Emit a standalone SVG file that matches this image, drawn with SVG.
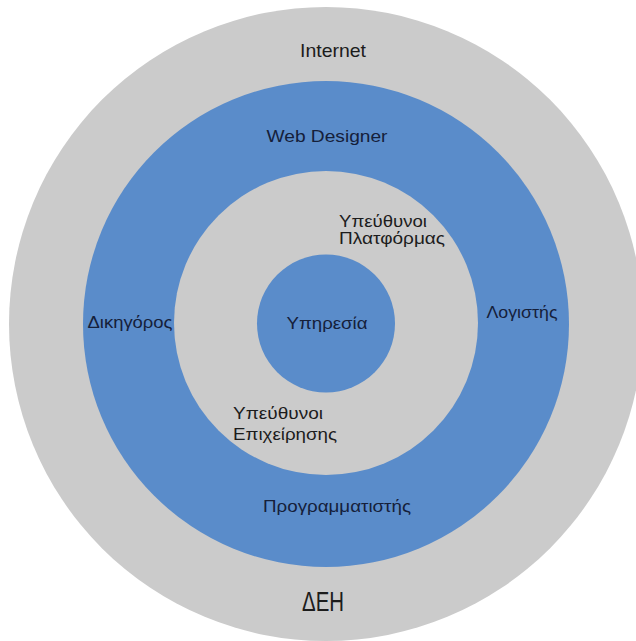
<svg xmlns="http://www.w3.org/2000/svg" width="636" height="641" viewBox="0 0 636 641">
  <style>
    .ring-gray { fill: #cbcbcb; }
    .ring-blue { fill: #5a8cca; }
    text { font-family: "Liberation Sans", "DejaVu Sans", sans-serif; text-anchor: middle; }
    .on-gray { fill: #1c1c1c; }
    .on-blue { fill: #15203a; }
    .lbl { font-size: 17px; }
    .lbl-sm { font-size: 16px; text-anchor: start; }
  </style>
  <rect width="636" height="641" fill="#ffffff"/>

  <!-- outermost ring -->
  <g id="ring-outer">
    <circle class="ring-gray" cx="326" cy="324" r="317"/>
    <text class="on-gray" x="333" y="56.5" font-size="19" textLength="66" lengthAdjust="spacingAndGlyphs">Internet</text>
    <text class="on-gray" x="323" y="610.5" font-size="27" textLength="42" lengthAdjust="spacingAndGlyphs">ΔΕΗ</text>
  </g>

  <!-- second ring -->
  <g id="ring-2">
    <circle class="ring-blue" cx="326" cy="324" r="243"/>
    <text class="on-blue lbl" x="327" y="142" textLength="121" lengthAdjust="spacingAndGlyphs">Web Designer</text>
    <text class="on-blue lbl" x="130" y="328" textLength="85" lengthAdjust="spacingAndGlyphs">Δικηγόρος</text>
    <text class="on-blue lbl" x="522" y="318" textLength="71" lengthAdjust="spacingAndGlyphs">Λογιστής</text>
    <text class="on-blue lbl" x="337" y="512" textLength="148" lengthAdjust="spacingAndGlyphs">Προγραμματιστής</text>
  </g>

  <!-- third ring -->
  <g id="ring-3">
    <circle class="ring-gray" cx="326" cy="323" r="152"/>
    <text class="on-gray lbl-sm" x="339" y="227" textLength="88" lengthAdjust="spacingAndGlyphs">Υπεύθυνοι</text>
    <text class="on-gray lbl-sm" x="339" y="244" textLength="106" lengthAdjust="spacingAndGlyphs">Πλατφόρμας</text>
    <text class="on-gray lbl-sm" x="233" y="419" textLength="90" lengthAdjust="spacingAndGlyphs">Υπεύθυνοι</text>
    <text class="on-gray lbl-sm" x="233" y="440" textLength="104" lengthAdjust="spacingAndGlyphs">Επιχείρησης</text>
  </g>

  <!-- core -->
  <g id="core">
    <circle class="ring-blue" cx="326" cy="323.5" r="69"/>
    <text class="on-blue" x="327" y="328.5" font-size="16" textLength="81" lengthAdjust="spacingAndGlyphs">Υπηρεσία</text>
  </g>
</svg>
